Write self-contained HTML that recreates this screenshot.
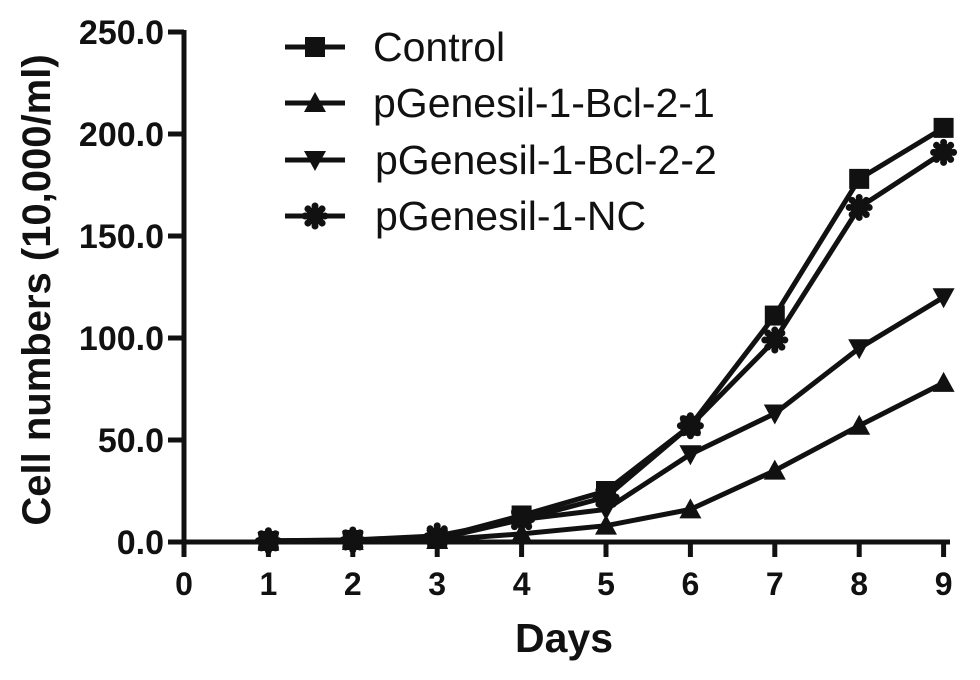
<!DOCTYPE html>
<html><head><meta charset="utf-8"><style>
html,body{margin:0;padding:0;background:#fff}
svg{display:block;font-family:"Liberation Sans",Arial,sans-serif}
</style></head><body>
<svg id="chart" width="980" height="680" viewBox="0 0 980 680"></svg>
<script>
const days=[1,2,3,4,5,6,7,8,9];
const control=[0.5,1,2,13,25,57,111,178,203];
const bcl1=[0.3,0.5,1,4,8,16,35,57,78];
const bcl2=[0.4,0.8,1.5,11,16,43,63,95,120];
const nc=[0.6,1,3,11,22,57,99,164,191];
const xTicks=[0,1,2,3,4,5,6,7,8,9];
const yTicks=[0,50,100,150,200,250];
const yTickLabels=["0.0","50.0","100.0","150.0","200.0","250.0"];
const seriesNames=["Control","pGenesil-1-Bcl-2-1","pGenesil-1-Bcl-2-2","pGenesil-1-NC"];

const NS="http://www.w3.org/2000/svg";
const svg=document.getElementById('chart');
const X=d=>184+d*84.4;
const Y=v=>542-v*2.04;
function el(tag,attrs,parent){const e=document.createElementNS(NS,tag);for(const k in attrs)e.setAttribute(k,attrs[k]);(parent||svg).appendChild(e);return e;}

const ax=el('g',{});


el('line',{x1:184,y1:Y(250)-2,x2:184,y2:556,stroke:'#111','stroke-width':5},ax);
el('line',{x1:168,y1:542,x2:950,y2:542,stroke:'#111','stroke-width':5},ax);
xTicks.forEach(t=>{
  const l=el('line',{x1:X(t),y1:542,x2:X(t),y2:557,stroke:'#111','stroke-width':5},ax);
  
  
  const tx=el('text',{x:X(t),y:595,'text-anchor':'middle','font-size':32,'font-weight':'bold',fill:'#111'},ax);
  tx.textContent=t;
  
  
});
yTicks.forEach((t,i)=>{
  const l=el('line',{x1:168,y1:Y(t),x2:184,y2:Y(t),stroke:'#111','stroke-width':5},ax);
  
  
  const tx=el('text',{x:164,y:Y(t)+12,'text-anchor':'end','font-size':34,'font-weight':'bold',fill:'#111'},ax);
  tx.textContent=yTickLabels[i];
  
  
});
const xt=el('text',{x:564,y:652,'text-anchor':'middle','font-size':41,'font-weight':'bold',fill:'#111'});
xt.textContent='Days';


const yt=el('text',{x:0,y:0,'text-anchor':'middle','font-size':40,'font-weight':'bold',fill:'#111',transform:'translate(50,290) rotate(-90)'});
yt.textContent='Cell numbers (10,000/ml)';



function marker(type,x,y,g){
  if(type==='square') el('rect',{x:x-10,y:y-10,width:20,height:20,fill:'#111'},g);
  else if(type==='up') el('polygon',{points:`${x},${y-11} ${x+11},${y+9} ${x-11},${y+9}`,fill:'#111'},g);
  else if(type==='down') el('polygon',{points:`${x-11},${y-9} ${x+11},${y-9} ${x},${y+11}`,fill:'#111'},g);
  else {
    el('circle',{cx:x,cy:y,r:9,fill:'#111'},g);
    for(let a=0;a<8;a++){const r=a*Math.PI/4;el('circle',{cx:x+10*Math.cos(r),cy:y+10*Math.sin(r),r:3.5,fill:'#111'},g);}
  }
}
const types=['square','up','down','star'];
[control,bcl1,bcl2,nc].forEach((vals,si)=>{
  const g=el('g',{});
  
  
  const pts=days.map((d,i)=>X(d)+','+Y(vals[i])).join(' ');
  el('polyline',{points:pts,fill:'none',stroke:'#111','stroke-width':5,'stroke-linejoin':'round'},g);
  days.forEach((d,i)=>marker(types[si],X(d),Y(vals[i]),g));
});
const legY=[47,103,160,216];
const lg=el('g',{});


seriesNames.forEach((n,i)=>{
  const g=el('g',{},lg);
  
  
  el('line',{x1:285,y1:legY[i],x2:345,y2:legY[i],stroke:'#111','stroke-width':5},g);
  marker(types[i],315,legY[i],g);
  const t=el('text',{x:[373,373,375,375][i],y:legY[i]+14,'font-size':41,fill:'#111'},g);
  t.textContent=n;
});
</script>
</body></html>
